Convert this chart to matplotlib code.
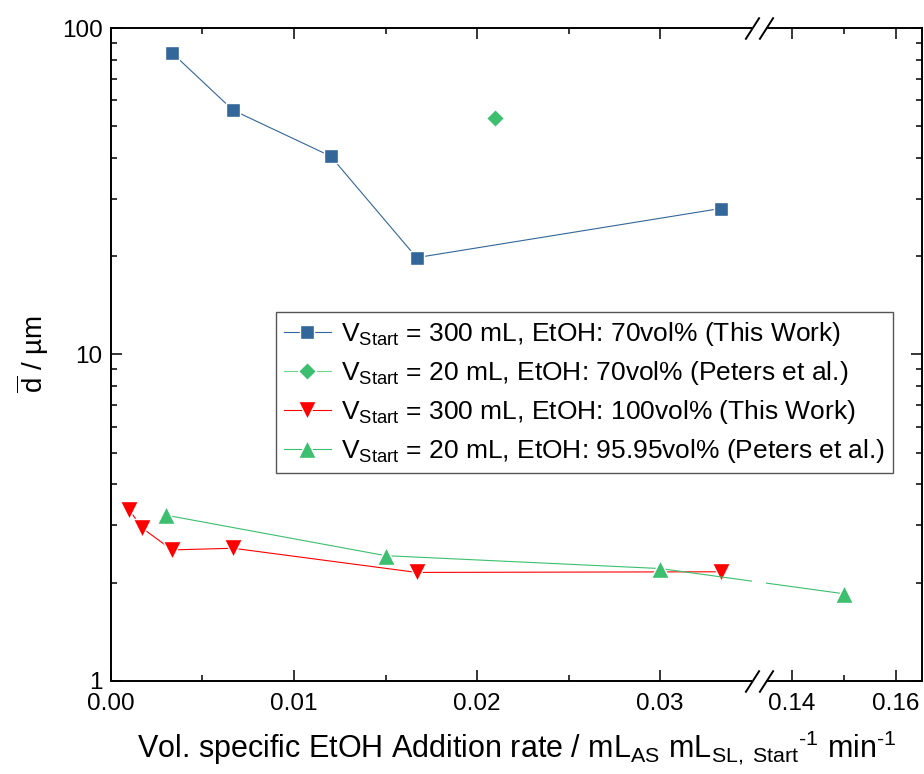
import numpy as np
import matplotlib
matplotlib.use("Agg")
import matplotlib.pyplot as plt
from matplotlib.transforms import blended_transform_factory
from matplotlib.patches import Rectangle

plt.rcParams['font.family'] = ['Liberation Sans', 'DejaVu Sans']
plt.rcParams['mathtext.fontset'] = 'custom'
plt.rcParams['mathtext.rm'] = 'Liberation Sans'
plt.rcParams['mathtext.it'] = 'Liberation Sans'

# data
x_blue = [0.00333, 0.00667, 0.0120, 0.0167, 0.0333]
y_blue = [84.0, 56.0, 40.5, 19.8, 28.0]

x_diam = [0.0210]
y_diam = [53.0]

x_red = [0.00100, 0.00167, 0.00333, 0.00667, 0.0167, 0.0333]
y_red = [3.35, 2.95, 2.52, 2.55, 2.15, 2.16]

x_green = [0.0030, 0.0150, 0.0300, 0.1500]
y_green = [3.22, 2.42, 2.21, 1.85]

labels = [r"V$_{\mathrm{Start}}$ = 300 mL, EtOH: 70vol% (This Work)",
          r"V$_{\mathrm{Start}}$ = 20 mL, EtOH: 70vol% (Peters et al.)",
          r"V$_{\mathrm{Start}}$ = 300 mL, EtOH: 100vol% (This Work)",
          r"V$_{\mathrm{Start}}$ = 20 mL, EtOH: 95.95vol% (Peters et al.)"]

xticks = [0.00, 0.01, 0.02, 0.03, 0.14, 0.16]
xtick_labels = ["0.00", "0.01", "0.02", "0.03", "0.14", "0.16"]
xminor = [0.005, 0.015, 0.025, 0.15]

# broken x axis: 0-0.035 | gap | 0.135-0.165
b1, b2 = 0.035, 0.135
gap = 0.00078
k = 0.2837


def fwd(x):
    x = np.asarray(x, dtype=float)
    return np.where(x <= b1, x,
                    np.where(x >= b2, b1 + gap + (x - b2) * k,
                             b1 + (x - b1) / (b2 - b1) * gap))


def inv(u):
    u = np.asarray(u, dtype=float)
    return np.where(u <= b1, u,
                    np.where(u >= b1 + gap, b2 + (u - b1 - gap) / k,
                             b1 + (u - b1) / gap * (b2 - b1)))


blue = '#336699'
green = '#3CBF6E'
green_line = '#6FD392'
red = '#FF0000'

fig = plt.figure(figsize=(9.24, 7.74), dpi=100)
ax = fig.add_axes([0.1201, 0.1202, 0.8774, 0.8436])
ax.set_xscale('function', functions=(fwd, inv))
ax.set_yscale('log')

ax.plot(x_blue, y_blue, '-s', color=blue, lw=0.8, ms=10, mec='white', mew=1.0,
        mfc=blue, label=labels[0])
ax.plot(x_diam, y_diam, '-D', color=green_line, lw=0.8, ms=9.5, mec='white', mew=1.0,
        mfc=green, label=labels[1])
ax.plot(x_red, y_red, '-v', color=red, lw=0.8, ms=12.5, mec='white', mew=1.0,
        mfc=red, label=labels[2])
ax.plot(x_green, y_green, '-^', color=green, lw=0.8, ms=12.5, mec='white', mew=1.0,
        mfc=green, label=labels[3])

ax.set_xlim(0, 0.165)
ax.set_ylim(1, 100)
ax.set_xticks(xticks)
ax.set_xticklabels(xtick_labels)
ax.set_xticks(xminor, minor=True)
ax.set_yticks([1, 10, 100])
ax.set_yticklabels(["1", "10", "100"])

ax.tick_params(which='both', direction='in', top=True, right=True, width=1.1,
               labelsize=17.5)
ax.tick_params(axis='x', pad=9)
ax.tick_params(axis='y', pad=6)
ax.tick_params(which='major', length=8)
ax.tick_params(which='minor', length=4.5)
for s in ax.spines.values():
    s.set_linewidth(1.4)

# break: white band over spines and lines, then slashes
bt = blended_transform_factory(ax.transData, ax.transAxes)
ax.add_patch(Rectangle((b1, -0.02), b2 - b1, 1.04, transform=bt, facecolor='white',
                       edgecolor='none', zorder=3, clip_on=False))
slash = [(-0.64, -1), (0.64, 1)]
for xb in (b1, b2):
    ax.plot([xb, xb], [0, 1], transform=bt, ls='none', marker=slash, ms=16,
            mfc='none', mec='black', mew=1.4, clip_on=False, zorder=4)

ax.set_xlabel("Vol. specific EtOH Addition rate / mL$_{\\mathrm{AS}}$ mL$_{\\mathrm{SL,\\ Start}}$$^{\u2010\\mathrm{1}}$ min$^{\u2010\\mathrm{1}}$",
              fontsize=22, labelpad=9)
ax.set_ylabel(r"$\overline{\mathrm{d}}$ / µm", fontsize=20, labelpad=8)

leg = ax.legend(loc='upper right', bbox_to_anchor=(0.9646, 0.565), fontsize=19,
                frameon=True, fancybox=False, edgecolor='#555555', framealpha=1,
                handlelength=1.75, handletextpad=0.4, borderpad=0.3, labelspacing=0.42,
                borderaxespad=0)
leg.get_frame().set_linewidth(1.0)
leg.set_zorder(6)

fig.savefig('out.png', dpi=100)
